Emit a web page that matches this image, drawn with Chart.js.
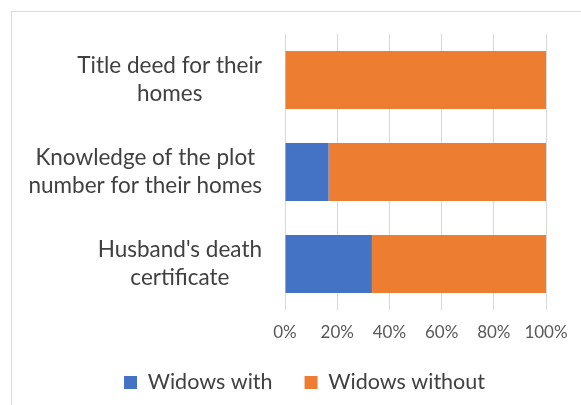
<!DOCTYPE html>
<html>
<head>
<meta charset="utf-8">
<script src="https://cdn.jsdelivr.net/npm/chart.js@4.4.1/dist/chart.umd.min.js"></script>
<style>
  html, body { margin: 0; padding: 0; background: #fff; overflow: hidden; }
  #frame { position: absolute; left: 11px; top: 11px; width: 585px; height: 398px; border: 1px solid #D9D9D9; }
</style>
</head>
<body>
<div id="frame"><canvas id="chart"></canvas></div>
<script>
const categories = [
  ['Title deed for their', 'homes'],
  ['Knowledge of the plot', 'number for their homes'],
  ["Husband's death", 'certificate']
];
const widowsWith = [0, 16.7, 33.3];
const widowsWithout = [100, 83.3, 66.7];
const seriesNames = ['Widows with', 'Widows without'];
const xTicks = [0, 20, 40, 60, 80, 100];

const FONT = 'Lato';

// draws the multi-line category labels, lines centred inside each block
const categoryLabels = {
  id: 'categoryLabels',
  afterDraw(chart) {
    const ctx = chart.ctx;
    const yScale = chart.scales.y;
    const right = chart.chartArea.left - 23;
    const lh = 28;
    ctx.save();
    ctx.font = '22.5px ' + FONT;
    ctx.fillStyle = '#404040';
    ctx.textAlign = 'center';
    ctx.textBaseline = 'middle';
    categories.forEach((lines, i) => {
      const y = yScale.getPixelForTick(i);
      const w = Math.max(...lines.map(l => ctx.measureText(l).width));
      const cx = right - w / 2;
      lines.forEach((l, j) => {
        ctx.fillText(l, cx, y + (j - (lines.length - 1) / 2) * lh);
      });
    });
    ctx.restore();
  }
};

new Chart(document.getElementById('chart'), {
  type: 'bar',
  data: {
    labels: categories,
    datasets: [
      { label: seriesNames[0], data: widowsWith, backgroundColor: '#4472C4' },
      { label: seriesNames[1], data: widowsWithout, backgroundColor: '#ED7D31' }
    ]
  },
  options: {
    indexAxis: 'y',
    responsive: true,
    maintainAspectRatio: false,
    animation: false,
    layout: { padding: { top: 22, left: 0, right: 0, bottom: 6.75 } },
    datasets: { bar: { categoryPercentage: 1, barPercentage: 0.63 } },
    plugins: {
      legend: {
        position: 'bottom',
        labels: {
          boxWidth: 13, boxHeight: 13, padding: 32,
          color: '#404040',
          font: { family: FONT, size: 21.5 }
        }
      },
      tooltip: { enabled: false }
    },
    scales: {
      x: {
        stacked: true,
        min: 0, max: 100,
        afterBuildTicks: s => { s.ticks = xTicks.map(v => ({ value: v })); },
        grid: { color: '#D9D9D9', lineWidth: 1, drawTicks: false },
        border: { display: false },
        ticks: { padding: 12, color: '#595959', font: { family: FONT, size: 17 }, callback: v => v + '%' },
        afterFit: s => { s.height = 29.75; }
      },
      y: {
        stacked: true,
        grid: { display: false },
        border: { display: false },
        ticks: { display: false },
        afterFit: s => { s.width = 273; }
      },
      // empty right axis only reserves the space right of the plot
      yRight: {
        position: 'right',
        grid: { display: false },
        border: { display: false },
        ticks: { display: false },
        afterFit: s => { s.width = 51; }
      }
    }
  },
  plugins: [categoryLabels]
});
</script>
</body>
</html>
